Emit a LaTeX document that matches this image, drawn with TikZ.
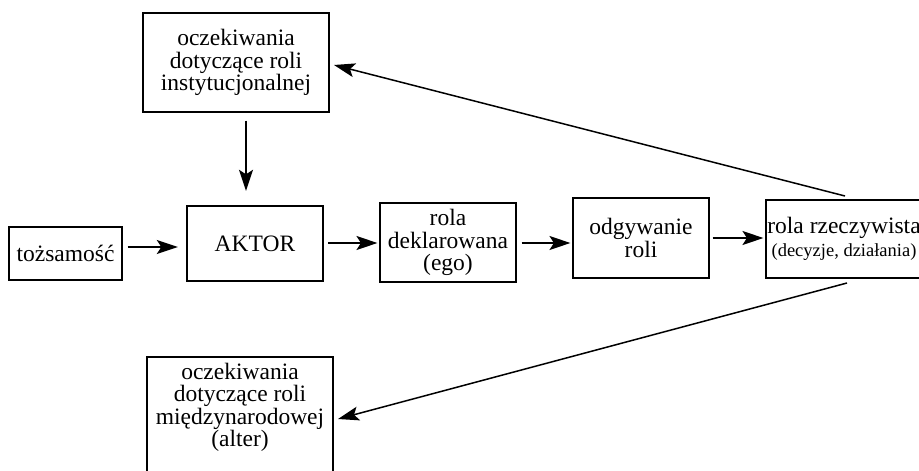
\documentclass[tikz,border=0pt]{standalone}
\usepackage{fontspec}
\setmainfont{Liberation Serif}
\usetikzlibrary{arrows.meta}
\tikzset{
  box/.style={draw, line width=1.1pt, rectangle, align=center, inner sep=0pt,
    font=\fontsize{23.5}{22.5}\selectfont},
  actorbox/.style={box, line width=2.4pt},
  arr/.style={line width=1.5pt, -{Stealth[length=21pt,width=14pt,inset=4.5pt]}},
}
\begin{document}
\begin{tikzpicture}[x=1pt,y=-1pt]
\useasboundingbox (0,0) rectangle (919,471);
\begin{scope}
\clip (0,0) rectangle (919,471);

% process chain
\node[box, minimum width=113pt, minimum height=53pt] (toz) at (65.5,253.5) {tożsamość};
\node[actorbox, minimum width=136pt, minimum height=75pt] (aktor) at (255,243.5) {AKTOR};
\node[box, minimum width=136pt, minimum height=79pt] (dekl) at (448,242.5) {rola\\deklarowana\\(ego)};
\node[box, minimum width=136pt, minimum height=80pt] (odg) at (641,238) {odgywanie\\roli};
\node[box, minimum width=156pt, minimum height=78pt] (rz) at (844,239)
  {rola rzeczywista\\[1pt]{\fontsize{18.5}{21}\selectfont (decyzje, działania)}};

% expectations
\node[box, minimum width=186pt, minimum height=99pt] (top) at (236,62.5)
  {oczekiwania\\dotyczące roli\\instytucjonalnej};
\node[box, minimum width=186pt, minimum height=132pt] (bot) at (240,423)
  {oczekiwania\\dotyczące roli\\międzynarodowej\\(alter)\\[14pt]};

% connectors
\coordinate (a1) at (toz.east |- 0,247);
\coordinate (a2) at (aktor.west |- 0,247);
\draw[arr, shorten <=5pt, shorten >=8pt] (a1) -- (a2);

\coordinate (b1) at (top.south -| 246,0);
\coordinate (b2) at (aktor.north -| 246,0);
\draw[arr, shorten <=8pt, shorten >=14pt] (b1) -- (b2);

\coordinate (c1) at (aktor.east |- 0,243);
\coordinate (c2) at (dekl.west |- 0,243);
\draw[arr, shorten <=4pt, shorten >=2pt] (c1) -- (c2);

\coordinate (d1) at (dekl.east |- 0,243);
\coordinate (d2) at (odg.west |- 0,243);
\draw[arr, shorten <=5pt, shorten >=2pt] (d1) -- (d2);

\coordinate (e1) at (odg.east |- 0,238);
\coordinate (e2) at (rz.west |- 0,238);
\draw[arr, shorten <=3pt, shorten >=2pt] (e1) -- (e2);

\coordinate (f1) at (845,196);
\coordinate (f2) at (334,65);
\draw[arr] (f1) -- (f2);

\coordinate (g1) at (847,283);
\coordinate (g2) at (338,419);
\draw[arr] (g1) -- (g2);
\end{scope}
\end{tikzpicture}
\end{document}
